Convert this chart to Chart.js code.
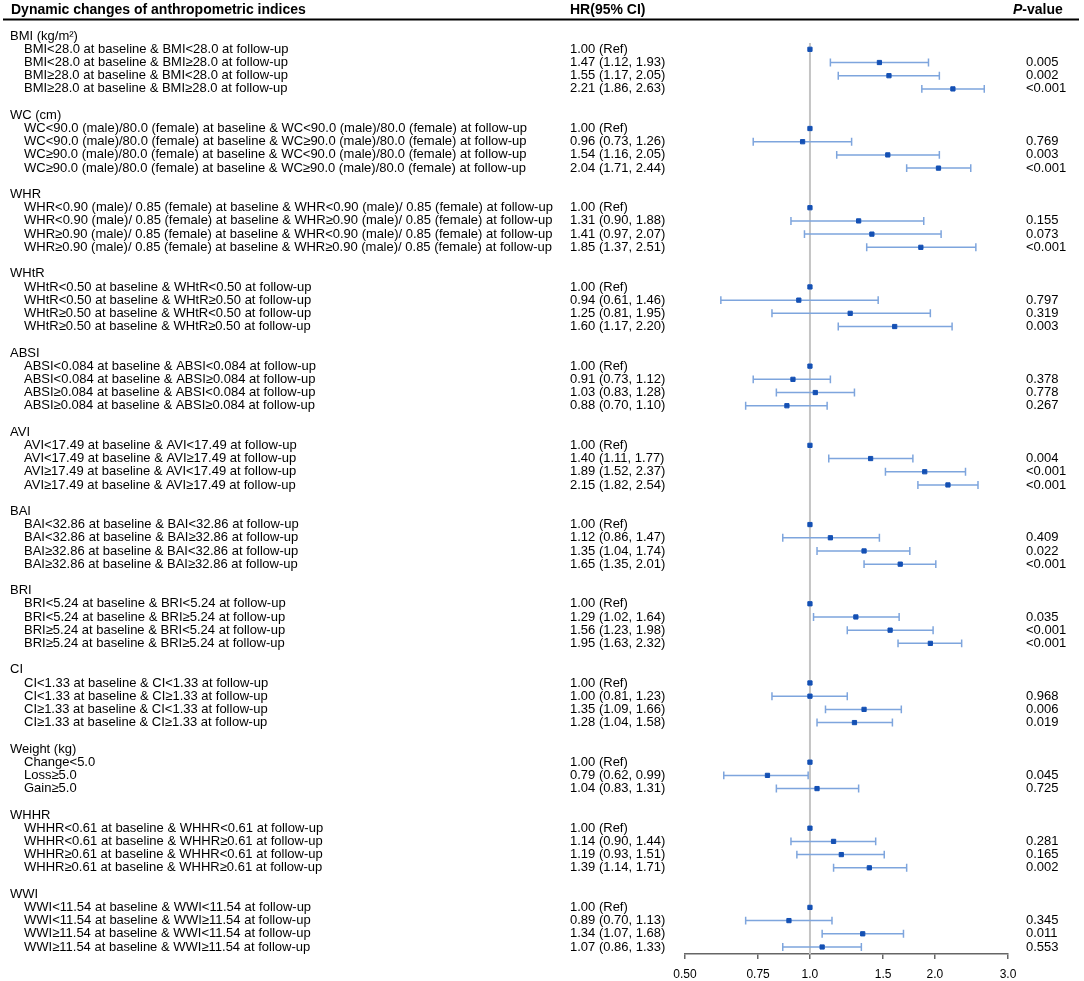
<!DOCTYPE html>
<html>
<head>
<meta charset="utf-8">
<script src="https://cdn.jsdelivr.net/npm/chart.js@4.4.1/dist/chart.umd.min.js"></script>
<style>
  html, body { margin: 0; padding: 0; background: #fff; }
  #wrap { width: 1084px; height: 981px; }
</style>
</head>
<body>
<div id="wrap"><canvas id="forest"></canvas></div>
<script>
// ── data ─────────────────────────────────────────────────────────────────────

const groupNames = [
  'BMI (kg/m²)', 'WC (cm)', 'WHR', 'WHtR', 'ABSI', 'AVI',
  'BAI', 'BRI', 'CI', 'Weight (kg)', 'WHHR', 'WWI',
];

const rowLabels = [
  ['BMI<28.0 at baseline & BMI<28.0 at follow-up',
   'BMI<28.0 at baseline & BMI≥28.0 at follow-up',
   'BMI≥28.0 at baseline & BMI<28.0 at follow-up',
   'BMI≥28.0 at baseline & BMI≥28.0 at follow-up'],
  ['WC<90.0 (male)/80.0 (female) at baseline & WC<90.0 (male)/80.0 (female) at follow-up',
   'WC<90.0 (male)/80.0 (female) at baseline & WC≥90.0 (male)/80.0 (female) at follow-up',
   'WC≥90.0 (male)/80.0 (female) at baseline & WC<90.0 (male)/80.0 (female) at follow-up',
   'WC≥90.0 (male)/80.0 (female) at baseline & WC≥90.0 (male)/80.0 (female) at follow-up'],
  ['WHR<0.90 (male)/ 0.85 (female) at baseline & WHR<0.90 (male)/ 0.85 (female) at follow-up',
   'WHR<0.90 (male)/ 0.85 (female) at baseline & WHR≥0.90 (male)/ 0.85 (female) at follow-up',
   'WHR≥0.90 (male)/ 0.85 (female) at baseline & WHR<0.90 (male)/ 0.85 (female) at follow-up',
   'WHR≥0.90 (male)/ 0.85 (female) at baseline & WHR≥0.90 (male)/ 0.85 (female) at follow-up'],
  ['WHtR<0.50 at baseline & WHtR<0.50 at follow-up',
   'WHtR<0.50 at baseline & WHtR≥0.50 at follow-up',
   'WHtR≥0.50 at baseline & WHtR<0.50 at follow-up',
   'WHtR≥0.50 at baseline & WHtR≥0.50 at follow-up'],
  ['ABSI<0.084 at baseline & ABSI<0.084 at follow-up',
   'ABSI<0.084 at baseline & ABSI≥0.084 at follow-up',
   'ABSI≥0.084 at baseline & ABSI<0.084 at follow-up',
   'ABSI≥0.084 at baseline & ABSI≥0.084 at follow-up'],
  ['AVI<17.49 at baseline & AVI<17.49 at follow-up',
   'AVI<17.49 at baseline & AVI≥17.49 at follow-up',
   'AVI≥17.49 at baseline & AVI<17.49 at follow-up',
   'AVI≥17.49 at baseline & AVI≥17.49 at follow-up'],
  ['BAI<32.86 at baseline & BAI<32.86 at follow-up',
   'BAI<32.86 at baseline & BAI≥32.86 at follow-up',
   'BAI≥32.86 at baseline & BAI<32.86 at follow-up',
   'BAI≥32.86 at baseline & BAI≥32.86 at follow-up'],
  ['BRI<5.24 at baseline & BRI<5.24 at follow-up',
   'BRI<5.24 at baseline & BRI≥5.24 at follow-up',
   'BRI≥5.24 at baseline & BRI<5.24 at follow-up',
   'BRI≥5.24 at baseline & BRI≥5.24 at follow-up'],
  ['CI<1.33 at baseline & CI<1.33 at follow-up',
   'CI<1.33 at baseline & CI≥1.33 at follow-up',
   'CI≥1.33 at baseline & CI<1.33 at follow-up',
   'CI≥1.33 at baseline & CI≥1.33 at follow-up'],
  ['Change<5.0', 'Loss≥5.0', 'Gain≥5.0'],
  ['WHHR<0.61 at baseline & WHHR<0.61 at follow-up',
   'WHHR<0.61 at baseline & WHHR≥0.61 at follow-up',
   'WHHR≥0.61 at baseline & WHHR<0.61 at follow-up',
   'WHHR≥0.61 at baseline & WHHR≥0.61 at follow-up'],
  ['WWI<11.54 at baseline & WWI<11.54 at follow-up',
   'WWI<11.54 at baseline & WWI≥11.54 at follow-up',
   'WWI≥11.54 at baseline & WWI<11.54 at follow-up',
   'WWI≥11.54 at baseline & WWI≥11.54 at follow-up'],
];

// hazard ratios, first row of each group is the reference
const hrValues = [
  [1.00, 1.47, 1.55, 2.21],
  [1.00, 0.96, 1.54, 2.04],
  [1.00, 1.31, 1.41, 1.85],
  [1.00, 0.94, 1.25, 1.60],
  [1.00, 0.91, 1.03, 0.88],
  [1.00, 1.40, 1.89, 2.15],
  [1.00, 1.12, 1.35, 1.65],
  [1.00, 1.29, 1.56, 1.95],
  [1.00, 1.00, 1.35, 1.28],
  [1.00, 0.79, 1.04],
  [1.00, 1.14, 1.19, 1.39],
  [1.00, 0.89, 1.34, 1.07],
];

const ciLower = [
  [null, 1.12, 1.17, 1.86],
  [null, 0.73, 1.16, 1.71],
  [null, 0.90, 0.97, 1.37],
  [null, 0.61, 0.81, 1.17],
  [null, 0.73, 0.83, 0.70],
  [null, 1.11, 1.52, 1.82],
  [null, 0.86, 1.04, 1.35],
  [null, 1.02, 1.23, 1.63],
  [null, 0.81, 1.09, 1.04],
  [null, 0.62, 0.83],
  [null, 0.90, 0.93, 1.14],
  [null, 0.70, 1.07, 0.86],
];

const ciUpper = [
  [null, 1.93, 2.05, 2.63],
  [null, 1.26, 2.05, 2.44],
  [null, 1.88, 2.07, 2.51],
  [null, 1.46, 1.95, 2.20],
  [null, 1.12, 1.28, 1.10],
  [null, 1.77, 2.37, 2.54],
  [null, 1.47, 1.74, 2.01],
  [null, 1.64, 1.98, 2.32],
  [null, 1.23, 1.66, 1.58],
  [null, 0.99, 1.31],
  [null, 1.44, 1.51, 1.71],
  [null, 1.13, 1.68, 1.33],
];

const pValues = [
  ['', '0.005', '0.002', '<0.001'],
  ['', '0.769', '0.003', '<0.001'],
  ['', '0.155', '0.073', '<0.001'],
  ['', '0.797', '0.319', '0.003'],
  ['', '0.378', '0.778', '0.267'],
  ['', '0.004', '<0.001', '<0.001'],
  ['', '0.409', '0.022', '<0.001'],
  ['', '0.035', '<0.001', '<0.001'],
  ['', '0.968', '0.006', '0.019'],
  ['', '0.045', '0.725'],
  ['', '0.281', '0.165', '0.002'],
  ['', '0.345', '0.011', '0.553'],
];

const tickValues = [0.5, 0.75, 1, 1.5, 2, 3];
const tickLabels = ['0.50', '0.75', '1.0', '1.5', '2.0', '3.0'];

// ── layout of rows: header, items, blank line ────────────────────────────────

const FONT = '"Liberation Sans", Arial, Helvetica, sans-serif';
const textRows = [];
const markerPoints = [];
const barPoints = [];
const CAP = 0.3;       // half cap height in row units

let row = 0;
groupNames.forEach((name, g) => {
  textRows.push({ row, text: name, col: 'label', indent: false });
  rowLabels[g].forEach((label, i) => {
    row += 1;
    const hr = hrValues[g][i];
    const lo = ciLower[g][i];
    const hi = ciUpper[g][i];
    const hrText = lo == null
      ? `${hr.toFixed(2)} (Ref)`
      : `${hr.toFixed(2)} (${lo.toFixed(2)}, ${hi.toFixed(2)})`;
    textRows.push({ row, text: label, col: 'label', indent: true });
    textRows.push({ row, text: hrText, col: 'hr' });
    textRows.push({ row, text: pValues[g][i], col: 'p' });
    markerPoints.push({ x: hr, y: row });
    if (lo != null) {
      barPoints.push({ x: lo, y: row }, { x: hi, y: row }, { x: null, y: null });
      barPoints.push({ x: lo, y: row - CAP }, { x: lo, y: row + CAP }, { x: null, y: null });
      barPoints.push({ x: hi, y: row - CAP }, { x: hi, y: row + CAP }, { x: null, y: null });
    }
  });
  row += 2;
});
const lastRow = row - 2;

// ── text plugin ──────────────────────────────────────────────────────────────

const forestText = {
  id: 'forestText',
  afterDraw(chart) {
    const { ctx } = chart;
    const y = chart.scales.y;
    ctx.save();
    ctx.fillStyle = '#000';
    ctx.textBaseline = 'middle';

    // column headers
    ctx.font = `bold 14px ${FONT}`;
    ctx.fillText('Dynamic changes of anthropometric indices', 11, 10.5);
    ctx.fillText('HR(95% CI)', 570, 10.5);
    ctx.font = `italic bold 14px ${FONT}`;
    ctx.fillText('P', 1013, 10.5);
    const pw = ctx.measureText('P').width;
    ctx.font = `bold 14px ${FONT}`;
    ctx.fillText('-value', 1013 + pw, 10.5);

    ctx.strokeStyle = '#000';
    ctx.lineWidth = 2;
    ctx.beginPath();
    ctx.moveTo(3, 19.5);
    ctx.lineTo(1079, 19.5);
    ctx.stroke();

    ctx.font = `13px ${FONT}`;
    textRows.forEach((t) => {
      const py = y.getPixelForValue(t.row);
      let px = 1026;
      if (t.col === 'label') px = t.indent ? 24 : 10;
      else if (t.col === 'hr') px = 570;
      ctx.fillText(t.text, px, py);
    });
    ctx.restore();
  },
};

// ── chart ────────────────────────────────────────────────────────────────────

new Chart(document.getElementById('forest'), {
  type: 'scatter',
  data: {
    datasets: [
      {
        type: 'scatter',
        data: markerPoints,
        pointStyle: 'rect',
        pointRadius: 3,
        backgroundColor: '#1450b4',
        borderColor: '#1450b4',
        borderWidth: 1,
        order: 0,
      },
      {
        type: 'line',
        data: barPoints,
        borderColor: '#7ea5dd',
        borderWidth: 1.5,
        pointRadius: 0,
        spanGaps: false,
        fill: false,
        order: 1,
      },
      {
        type: 'line',
        data: [{ x: 1, y: 0.52 }, { x: 1, y: lastRow + 0.53 }],
        borderColor: '#c4c4c4',
        borderWidth: 2,
        pointRadius: 0,
        fill: false,
        order: 2,
      },
    ],
  },
  options: {
    responsive: true,
    maintainAspectRatio: false,
    animation: false,
    layout: { padding: { left: 685, right: 76, top: 29.5, bottom: -8.4 } },
    plugins: { legend: { display: false }, tooltip: { enabled: false } },
    scales: {
      x: {
        type: 'logarithmic',
        min: 0.5,
        max: 3,
        afterBuildTicks: (scale) => {
          scale.ticks = tickValues.map((v) => ({ value: v }));
        },
        ticks: {
          autoSkip: false,
          maxRotation: 0,
          padding: 8,
          color: '#000',
          font: { family: FONT, size: 12 },
          callback: (v) => tickLabels[tickValues.indexOf(v)],
        },
        grid: {
          drawOnChartArea: false,
          drawTicks: true,
          tickLength: 5,
          color: '#666',
          lineWidth: 1.5,
        },
        border: { display: true, color: '#666', width: 1.5 },
      },
      y: {
        type: 'linear',
        reverse: true,
        min: -0.5,
        max: lastRow + 0.53,
        display: false,
      },
    },
  },
  plugins: [forestText],
});
</script>
</body>
</html>
